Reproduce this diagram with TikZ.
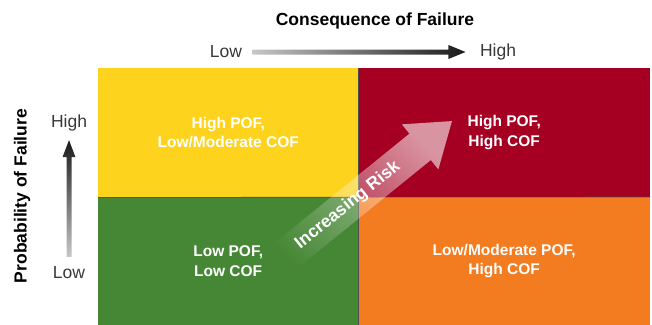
\documentclass[tikz,border=0pt]{standalone}
\usepackage{fontspec}
\setmainfont{Liberation Sans}
\usetikzlibrary{positioning, calc, fadings}
\definecolor{pofyellow}{RGB}{253,211,29}
\definecolor{pofred}{RGB}{165,0,33}
\definecolor{pofgreen}{RGB}{69,135,52}
\definecolor{poforange}{RGB}{243,123,32}
\tikzfading[name=riskfade, left color=transparent!100, middle color=transparent!68, right color=transparent!42]

\begin{document}
\begin{tikzpicture}[x=1pt, y=-1pt,
  quad/.style={anchor=north west, inner sep=0pt, text=white, align=center,
    font=\fontsize{15.5}{19.5}\selectfont\bfseries},
  axislabel/.style={font=\fontsize{17.5}{20}\selectfont\bfseries},
  endlabel/.style={text=black!78, font=\fontsize{17.5}{20}\selectfont}]
\useasboundingbox (0,0) rectangle (652,324);

% Risk quadrants
\node[quad, fill=pofyellow, minimum width=260pt, minimum height=129pt] (hl) at (98,68) {High POF,\\Low/Moderate COF};
\node[quad, fill=pofred, minimum width=292pt, minimum height=129pt] (hh) at (358,68) {High POF,\\High COF};
\node[quad, fill=pofgreen, minimum width=260pt, minimum height=128pt] (ll) at (98,197) {Low POF,\\Low COF};
\node[quad, fill=poforange, minimum width=292pt, minimum height=128pt] (lh) at (358,197) {Low/Moderate POF,\\High COF};

% Dividers
\draw[black!70, line width=0.6pt] (hl.north east) -- (ll.south east);
\draw[black!70, line width=0.6pt] (hl.south west) -- (lh.north east);

% Consequence axis
\node[axislabel] (cof) at (375,21) {Consequence of Failure};
\node[endlabel] (cl) at (226,52) {Low};
\node[endlabel] (ch) at (498,52) {High};
\coordinate (cofa) at ($(cl.east)+(7,0)$);
\coordinate (cofb) at ($(ch.west)+(-11,0)$);
\shade[left color=black!22, right color=black!90]
  ($(cofa)+(0,-2.5)$) -- ($(cofb)+(-17,-2.5)$) -- ($(cofb)+(-17,-7)$) -- (cofb)
  -- ($(cofb)+(-17,7)$) -- ($(cofb)+(-17,2.5)$) -- ($(cofa)+(0,2.5)$) -- cycle;

% Probability axis
\node[axislabel, rotate=90] (pof) at (22,196) {Probability of Failure};
\node[endlabel] (ph) at (69,123) {High};
\node[endlabel] (pl) at (69,273) {Low};
\coordinate (pofa) at ($(pl.north)+(0,-6.5)$);
\coordinate (pofb) at ($(ph.south)+(0,5.5)$);
\shade[top color=black!90, bottom color=black!22]
  ($(pofa)+(-2.5,0)$) -- ($(pofb)+(-2.5,17)$) -- ($(pofb)+(-6.5,17)$) -- (pofb)
  -- ($(pofb)+(6.5,17)$) -- ($(pofb)+(2.5,17)$) -- ($(pofa)+(2.5,0)$) -- cycle;

% Increasing risk arrow
\begin{scope}[shift={(452,121)}, rotate=39]
\fill[white, path fading=riskfade, fading angle=39]
  (0,0) -- (-41,29) -- (-41,17) -- (-235,17) -- (-235,-17) -- (-41,-17) -- (-41,-29) -- cycle;
\node[rotate=39, text=white, font=\fontsize{17.5}{20}\selectfont\bfseries] (risk) at (-134,0) {Increasing Risk};
\end{scope}
\end{tikzpicture}
\end{document}
